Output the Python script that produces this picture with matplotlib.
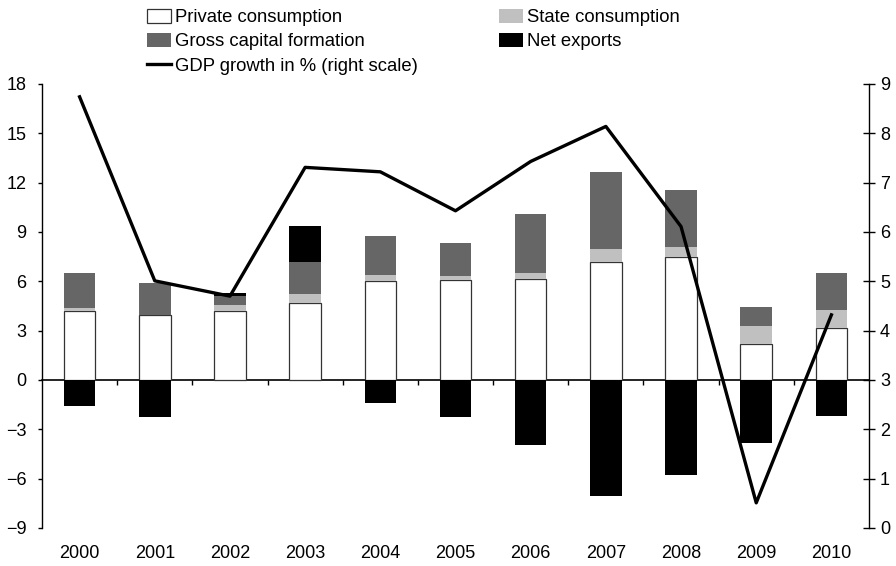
import numpy as np
import matplotlib
matplotlib.use("Agg")
import matplotlib.pyplot as plt
from matplotlib.patches import Patch
from matplotlib.lines import Line2D

plt.rcParams['font.family'] = ['Liberation Sans', 'DejaVu Sans']

years = ["2000", "2001", "2002", "2003", "2004", "2005", "2006", "2007", "2008", "2009", "2010"]
private_cons = [4.2, 3.95, 4.2, 4.66, 6.0, 6.08, 6.12, 7.16, 7.46, 2.17, 3.14]
state_cons = [0.18, 0.0, 0.36, 0.55, 0.41, 0.23, 0.39, 0.83, 0.63, 1.1, 1.14]
capital_form = [2.11, 1.93, 0.57, 1.97, 2.35, 2.04, 3.57, 4.68, 3.47, 1.17, 2.21]
net_exports = [-1.56, -2.25, 0.14, 2.19, -1.42, -2.25, -3.93, -7.04, -5.78, -3.83, -2.17]
gdp_growth = [8.74, 5.01, 4.70, 7.31, 7.22, 6.43, 7.43, 8.14, 6.11, 0.51, 4.32]

left_ticks = [-9, -6, -3, 0, 3, 6, 9, 12, 15, 18]
right_ticks = [0, 1, 2, 3, 4, 5, 6, 7, 8, 9]

x = np.arange(len(years))
p = np.array(private_cons)
s = np.array(state_cons)
c = np.array(capital_form)
n = np.array(net_exports)

fig = plt.figure(figsize=(8.96, 5.66), dpi=100)
ax = fig.add_axes([42/896, 1-528/566, (869-42)/896, (528-84)/566])

w = 0.42
ax.bar(x, p, w, color='white', edgecolor='#333333', linewidth=0.9, zorder=2)
ax.bar(x, s, w, bottom=p, color='#c0c0c0', linewidth=0, zorder=2)
ax.bar(x, c, w, bottom=p + s, color='#666666', linewidth=0, zorder=2)
nb = np.where(n > 0, p + s + c, 0)
ax.bar(x, n, w, bottom=nb, color='black', linewidth=0, zorder=2)

ax.set_xlim(-0.5, len(years) - 0.5)
ax.set_ylim(-9, 18)
ax.set_yticks(left_ticks)
ax.set_yticklabels([("\u2212" + str(-t)) if t < 0 else str(t) for t in left_ticks])
ax.set_xticks(x)
ax.set_xticklabels(years)
ax.tick_params(axis='x', length=0, pad=12, labelsize=13)
ax.tick_params(axis='y', direction='out', length=3, width=1, pad=8, labelsize=13)
for sp in ['top', 'bottom', 'right']:
    ax.spines[sp].set_visible(False)
ax.spines['left'].set_linewidth(1)

# zero line with boundary ticks
sec = ax.secondary_xaxis(1/3)
sec.set_xticks(np.arange(len(years) - 1) + 0.5)
sec.set_xticklabels([])
sec.tick_params(axis='x', direction='out', length=3.5, width=1, color='black')
sec.spines['bottom'].set_linewidth(1.2)
sec.spines['bottom'].set_color('black')

ax2 = ax.twinx()
ax2.plot(x, gdp_growth, color='black', linewidth=2.4, zorder=5)
ax2.set_ylim(0, 9)
ax2.set_yticks(right_ticks)
ax2.tick_params(axis='y', direction='inout', length=8, width=1, pad=4, labelsize=13)
for sp in ['top', 'bottom', 'left']:
    ax2.spines[sp].set_visible(False)
ax2.spines['right'].set_linewidth(1)

handles = [
    Patch(facecolor='white', edgecolor='#333333', linewidth=0.9),
    Patch(facecolor='#666666', edgecolor='none'),
    Line2D([0], [0], color='black', linewidth=2.4),
    Patch(facecolor='#c0c0c0', edgecolor='none'),
    Patch(facecolor='black', edgecolor='none'),
]
labels = ["Private consumption", "Gross capital formation", "GDP growth in % (right scale)",
          "State consumption", "Net exports"]
fig.legend(handles, labels, ncol=2, loc='upper left', bbox_to_anchor=(147/896, 1 - 9/566),
           frameon=False, fontsize=13.3, handlelength=1.3, handleheight=0.75,
           handletextpad=0.2, columnspacing=4.4, labelspacing=0.38, borderpad=0, borderaxespad=0)

fig.savefig("out.png", dpi=100)
